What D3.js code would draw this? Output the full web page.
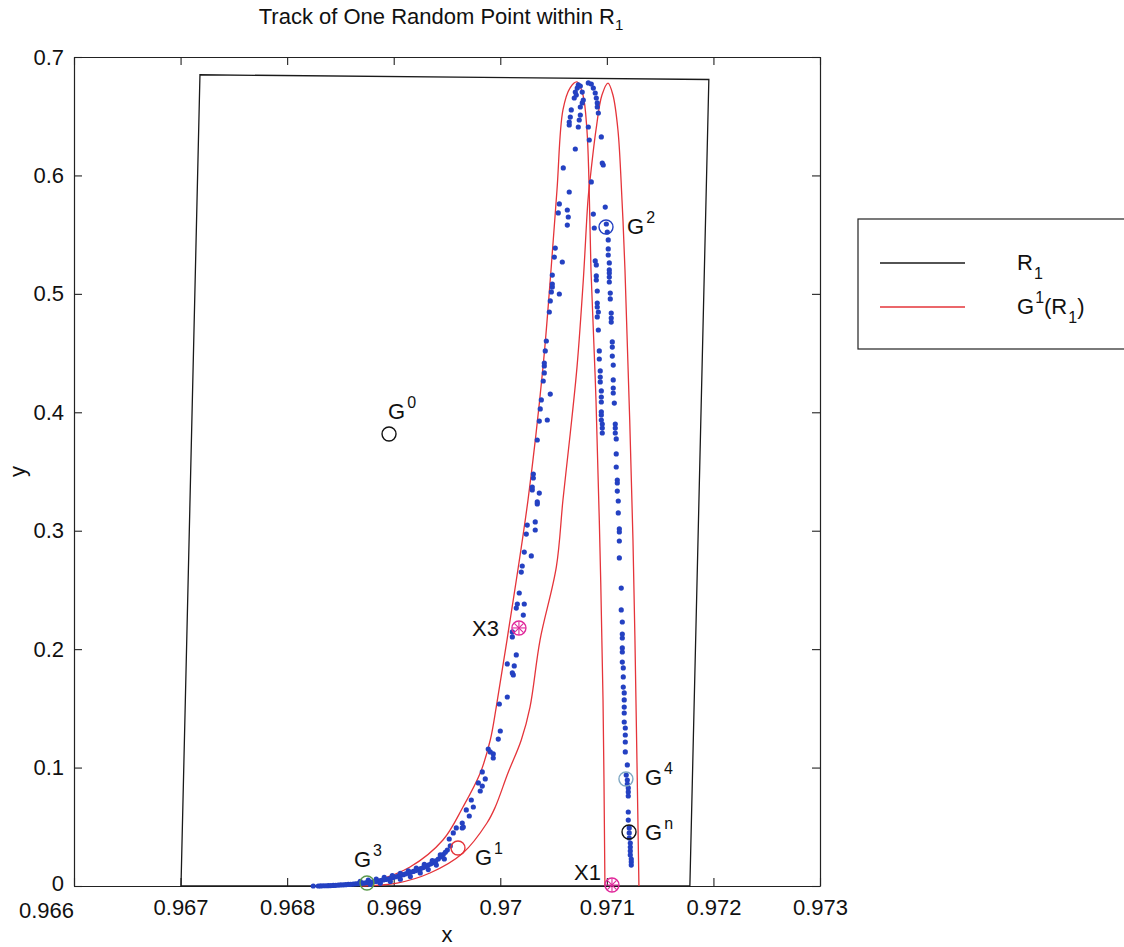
<!DOCTYPE html>
<html>
<head>
<meta charset="utf-8">
<script src="https://cdn.jsdelivr.net/npm/d3@7"></script>
<style>
  body { margin: 0; background: #fff; }
  svg { display: block; }
  text { font-family: "Liberation Sans", Arial, sans-serif; fill: #111; }
</style>
</head>
<body>
<svg id="chart" width="1124" height="947"></svg>
<script>
// ---- data ----
const xTicks = [0.966, 0.967, 0.968, 0.969, 0.97, 0.971, 0.972, 0.973];
const yTicks = [0, 0.1, 0.2, 0.3, 0.4, 0.5, 0.6, 0.7];

// R1 quadrilateral (black)
const regionR1 = [[0.967004, 0], [0.967182, 0.685], [0.971957, 0.681], [0.971779, 0]];

// G1(R1): two thin humps (red)
const humpLeft = [
  [0.968308, 0.0000], [0.968843, 0.0051], [0.969153, 0.0160], [0.969462, 0.0388], [0.969650, 0.0667],
  [0.969812, 0.0954], [0.969906, 0.1233], [0.969962, 0.1511], [0.970063, 0.2077], [0.970260, 0.3259],
  [0.970401, 0.4383], [0.970476, 0.5202], [0.970532, 0.5877], [0.970588, 0.6553], [0.970654, 0.6738],
  [0.970720, 0.6789], [0.970776, 0.6679], [0.970813, 0.6384], [0.970832, 0.5961], [0.970851, 0.5202],
  [0.970898, 0.4104], [0.970935, 0.2863], [0.970964, 0.1571], [0.970982, 0.0000]
];
const humpRight = [
  [0.968684, 0.0000], [0.969031, 0.0025], [0.969340, 0.0110], [0.969650, 0.0279], [0.969875, 0.0532],
  [0.969953, 0.0667], [0.970072, 0.0954], [0.970197, 0.1233], [0.970279, 0.1511], [0.970373, 0.2077],
  [0.970526, 0.2694], [0.970588, 0.3259], [0.970657, 0.3825], [0.970720, 0.4383], [0.970779, 0.5117],
  [0.970823, 0.5793], [0.970842, 0.5961], [0.970898, 0.6384], [0.970954, 0.6679], [0.971011, 0.6780],
  [0.971057, 0.6679], [0.971104, 0.6384], [0.971142, 0.5793], [0.971170, 0.5202], [0.971245, 0.2922],
  [0.971273, 0.1571], [0.971301, 0.0000]
];

// blue track of the random point
const trackBand = [
  [0.968245, 0.0000], [0.968292, 0.0000], [0.968339, 0.0002], [0.968386, 0.0003], [0.968433, 0.0005],
  [0.968480, 0.0008], [0.968527, 0.0010], [0.968574, 0.0013], [0.968621, 0.0016], [0.968668, 0.0020],
  [0.968714, 0.0024], [0.968761, 0.0030], [0.968808, 0.0036], [0.968855, 0.0042], [0.968902, 0.0051],
  [0.968949, 0.0059], [0.968996, 0.0072], [0.969043, 0.0084], [0.969090, 0.0096], [0.969137, 0.0110],
  [0.969184, 0.0123], [0.969231, 0.0138], [0.969277, 0.0156], [0.969324, 0.0177], [0.969371, 0.0198],
  [0.969418, 0.0228], [0.969465, 0.0266], [0.969503, 0.0304], [0.969531, 0.0338],
  [0.968315, 0.0001], [0.968362, 0.0002], [0.968409, 0.0004], [0.968456, 0.0006], [0.968503, 0.0009],
  [0.968550, 0.0011], [0.968597, 0.0014], [0.968644, 0.0018], [0.968691, 0.0022], [0.968738, 0.0027],
  [0.968785, 0.0033], [0.968832, 0.0039], [0.968879, 0.0046], [0.968925, 0.0055], [0.968972, 0.0065],
  [0.969019, 0.0078], [0.969066, 0.0090], [0.969113, 0.0103], [0.969160, 0.0116], [0.969207, 0.0130],
  [0.969254, 0.0147], [0.969301, 0.0166], [0.969348, 0.0187], [0.969395, 0.0212], [0.969441, 0.0246],
  [0.969484, 0.0285],
  [0.968686, 0.0040], [0.968761, 0.0049], [0.968836, 0.0059], [0.968911, 0.0072], [0.968987, 0.0088],
  [0.969062, 0.0106], [0.969137, 0.0128], [0.969212, 0.0152], [0.969287, 0.0182], [0.969362, 0.0215],
  [0.969437, 0.0262],
  [0.968780, 0.0013], [0.968874, 0.0023], [0.968968, 0.0038], [0.969062, 0.0057], [0.969156, 0.0080],
  [0.969249, 0.0110], [0.969324, 0.0139], [0.969400, 0.0177], [0.969475, 0.0228]
];
const trackRise = [
  [0.969521, 0.0397], [0.969559, 0.0448], [0.969587, 0.0490], [0.969643, 0.0490], [0.969643, 0.0532],
  [0.969653, 0.0498], [0.969709, 0.0591], [0.969681, 0.0642], [0.969747, 0.0667], [0.969728, 0.0726],
  [0.969812, 0.0802], [0.969831, 0.0844], [0.969794, 0.0870], [0.969859, 0.0904], [0.969831, 0.0963],
  [0.969934, 0.1081], [0.969934, 0.1115], [0.969906, 0.1132], [0.969887, 0.1157], [0.969981, 0.1241],
  [0.970000, 0.1309], [0.969991, 0.1537], [0.970066, 0.1596], [0.970122, 0.1782], [0.970113, 0.1799],
  [0.970131, 0.1858], [0.970066, 0.1875], [0.970150, 0.1951], [0.970113, 0.2103], [0.970113, 0.2145],
  [0.970216, 0.2288], [0.970150, 0.2347], [0.970160, 0.2381], [0.970225, 0.2381], [0.970178, 0.2474],
  [0.970197, 0.2651], [0.970206, 0.2702], [0.970291, 0.2787], [0.970225, 0.2820], [0.970244, 0.2972],
  [0.970328, 0.3006], [0.970253, 0.3048], [0.970328, 0.3074], [0.970347, 0.3226], [0.970347, 0.3243],
  [0.970366, 0.3318], [0.970300, 0.3344], [0.970300, 0.3369], [0.970310, 0.3445], [0.970310, 0.3479],
  [0.970347, 0.3766], [0.970366, 0.3926], [0.970441, 0.3935], [0.970375, 0.4028], [0.970385, 0.4104],
  [0.970469, 0.4154], [0.970403, 0.4264], [0.970413, 0.4332], [0.970413, 0.4391], [0.970413, 0.4416],
  [0.970422, 0.4518], [0.970432, 0.4602], [0.970460, 0.4847], [0.970469, 0.4940], [0.970554, 0.4999],
  [0.970479, 0.5016], [0.970488, 0.5058], [0.970488, 0.5083], [0.970488, 0.5159], [0.970582, 0.5269],
  [0.970507, 0.5311], [0.970516, 0.5387], [0.970629, 0.5581], [0.970638, 0.5649], [0.970629, 0.5708],
  [0.970544, 0.5683], [0.970554, 0.5759], [0.970647, 0.5860], [0.970591, 0.6063], [0.970704, 0.6223]
];
const trackPeak = [
  [0.970647, 0.6426], [0.970647, 0.6451], [0.970657, 0.6493], [0.970666, 0.6553], [0.970732, 0.6409],
  [0.970741, 0.6468], [0.970751, 0.6510], [0.970826, 0.6409], [0.970835, 0.6299], [0.970732, 0.6764],
  [0.970751, 0.6755], [0.970722, 0.6738], [0.970704, 0.6704], [0.970713, 0.6679], [0.970694, 0.6654],
  [0.970769, 0.6704], [0.970779, 0.6637], [0.970769, 0.6612], [0.970751, 0.6578], [0.970826, 0.6781],
  [0.970854, 0.6772], [0.970873, 0.6738], [0.970891, 0.6696], [0.970901, 0.6654], [0.970910, 0.6612],
  [0.970910, 0.6578], [0.970920, 0.6527], [0.970948, 0.6325], [0.970957, 0.6105], [0.970966, 0.6088],
  [0.970854, 0.5945], [0.970873, 0.5674], [0.970985, 0.5733], [0.970882, 0.5556]
];
const trackFallLeft = [
  [0.970891, 0.5278], [0.970901, 0.5244], [0.970901, 0.5151], [0.970901, 0.5117], [0.970910, 0.5024],
  [0.970910, 0.4923], [0.970910, 0.4889], [0.970920, 0.4847], [0.970910, 0.4805], [0.970920, 0.4695],
  [0.970929, 0.4518], [0.970929, 0.4450], [0.970938, 0.4349], [0.970938, 0.4298], [0.970938, 0.4256],
  [0.970948, 0.4180], [0.970948, 0.4129], [0.970948, 0.4087], [0.970948, 0.4003], [0.970948, 0.3977],
  [0.970948, 0.3935], [0.970957, 0.3901], [0.970957, 0.3867], [0.970957, 0.3825]
];
const trackFallRight = [
  [0.970995, 0.5590], [0.971004, 0.5522], [0.971013, 0.5455], [0.971013, 0.5379], [0.971013, 0.5328],
  [0.971023, 0.5261], [0.971023, 0.5202], [0.971023, 0.5176], [0.971023, 0.5142], [0.971023, 0.5100],
  [0.971032, 0.5007], [0.971032, 0.4957], [0.971041, 0.4838], [0.971041, 0.4796], [0.971041, 0.4762],
  [0.971051, 0.4594], [0.971051, 0.4551], [0.971051, 0.4475], [0.971060, 0.4399], [0.971060, 0.4273],
  [0.971060, 0.4205], [0.971060, 0.4163], [0.971070, 0.4078], [0.971079, 0.3901], [0.971079, 0.3867],
  [0.971079, 0.3825], [0.971088, 0.3775], [0.971088, 0.3648], [0.971088, 0.3538], [0.971098, 0.3428],
  [0.971098, 0.3403], [0.971098, 0.3335], [0.971107, 0.3251], [0.971107, 0.3150], [0.971117, 0.3015],
  [0.971117, 0.2989], [0.971117, 0.2913], [0.971117, 0.2770], [0.971135, 0.2516], [0.971135, 0.2331],
  [0.971145, 0.2229], [0.971145, 0.2128], [0.971145, 0.2094], [0.971145, 0.2010], [0.971145, 0.1976],
  [0.971145, 0.1891], [0.971154, 0.1841], [0.971154, 0.1765], [0.971154, 0.1680], [0.971163, 0.1630],
  [0.971163, 0.1571], [0.971163, 0.1511], [0.971163, 0.1461], [0.971163, 0.1385], [0.971173, 0.1334],
  [0.971173, 0.1275], [0.971173, 0.1216], [0.971173, 0.1132], [0.971192, 0.1022], [0.971182, 0.0937],
  [0.971192, 0.0895], [0.971192, 0.0861], [0.971201, 0.0828], [0.971201, 0.0794], [0.971201, 0.0760],
  [0.971201, 0.0625], [0.971201, 0.0557], [0.971210, 0.0490], [0.971210, 0.0448], [0.971210, 0.0405],
  [0.971220, 0.0363], [0.971220, 0.0329], [0.971220, 0.0296], [0.971220, 0.0262], [0.971229, 0.0228],
  [0.971229, 0.0203], [0.971229, 0.0177]
];

// named iterates and fixed points
const markerNames = ["G0", "G1", "G2", "G3", "G4", "Gn", "X3", "X1"];
const markerValues = [
  [0.968956, 0.3817], [0.969603, 0.0321], [0.970992, 0.5565], [0.968749, 0.0025],
  [0.971179, 0.0904], [0.971208, 0.0456], [0.970175, 0.2179], [0.971048, 0.0008]
];

// ---- layout / style ----
const width = 1124, height = 947;
const plot = { left: 74, top: 57, right: 820, bottom: 886 };
const red = "#e5343a", blue = "#2441c2", magenta = "#e0279a";
const font = "'Liberation Sans', Arial, sans-serif";

// label placement per marker: colour, text offset (px), anchor, superscript
const markerStyle = {
  G0: { color: "#111", dx: -1, dy: -15, anchor: "start", base: "G", sup: "0" },
  G1: { color: red, dx: 17, dy: 17, anchor: "start", base: "G", sup: "1" },
  G2: { color: blue, dx: 21, dy: 7, anchor: "start", base: "G", sup: "2" },
  G3: { color: "#5b9a4c", dx: -13, dy: -16, anchor: "start", base: "G", sup: "3" },
  G4: { color: "#7fa8c4", dx: 19, dy: 6, anchor: "start", base: "G", sup: "4" },
  Gn: { color: "#111", dx: 16, dy: 8, anchor: "start", base: "G", sup: "n" },
  X3: { color: magenta, dx: -20, dy: 8, anchor: "end", base: "X3" },
  X1: { color: magenta, dx: -11, dy: -5, anchor: "end", base: "X1" }
};

const svg = d3.select("#chart").attr("width", width).attr("height", height);

const x = d3.scaleLinear().domain([0.966, 0.973]).range([plot.left, plot.right]);
const y = d3.scaleLinear().domain([0, 0.7]).range([plot.bottom, plot.top]);

// axes box with inward ticks on all four sides
const fmt = d => String(+d.toFixed(3));
const axisStyle = g => {
  g.attr("font-family", font).attr("font-size", 22);
  g.select(".domain").attr("stroke", "#222").attr("stroke-width", 1.2);
  g.selectAll(".tick line").attr("stroke", "#222").attr("stroke-width", 1.1);
  g.selectAll(".tick text").attr("fill", "#111");
};

const xAxisG = svg.append("g")
  .attr("transform", `translate(0,${plot.bottom})`)
  .call(d3.axisBottom(x).tickValues(xTicks).tickSize(-8).tickSizeOuter(0).tickPadding(13).tickFormat(fmt))
  .call(axisStyle);
// first x label sits left of the corner, clear of the y "0"
xAxisG.select(".tick text").attr("dx", -28).attr("y", 16);

svg.append("g")
  .attr("transform", `translate(0,${plot.top})`)
  .call(d3.axisTop(x).tickValues(xTicks).tickSize(-8).tickSizeOuter(0).tickFormat(""))
  .call(axisStyle);
const yAxisG = svg.append("g")
  .attr("transform", `translate(${plot.left},0)`)
  .call(d3.axisLeft(y).tickValues(yTicks).tickSize(-8).tickSizeOuter(0).tickPadding(10).tickFormat(fmt))
  .call(axisStyle);
yAxisG.select(".tick text").attr("y", -3);
svg.append("g")
  .attr("transform", `translate(${plot.right},0)`)
  .call(d3.axisRight(y).tickValues(yTicks).tickSize(-8).tickSizeOuter(0).tickFormat(""))
  .call(axisStyle);

// R1 region
svg.append("path")
  .datum(regionR1)
  .attr("fill", "none")
  .attr("stroke", "#1a1a1a")
  .attr("stroke-width", 1.3)
  .attr("d", d3.line().x(d => x(d[0])).y(d => y(d[1])).curve(d3.curveLinearClosed));

// G1(R1) humps
const humpLine = d3.line().x(d => x(d[0])).y(d => y(d[1])).curve(d3.curveCatmullRom.alpha(0.5));
svg.selectAll(".hump")
  .data([humpLeft, humpRight])
  .join("path")
  .attr("class", "hump")
  .attr("fill", "none")
  .attr("stroke", red)
  .attr("stroke-width", 1.3)
  .attr("d", humpLine);

// blue dots
const track = [].concat(trackBand, trackRise, trackPeak, trackFallLeft, trackFallRight);
svg.append("g")
  .selectAll("circle")
  .data(track)
  .join("circle")
  .attr("cx", d => x(d[0]))
  .attr("cy", d => y(d[1]))
  .attr("r", 2.6)
  .attr("fill", blue);

// markers
const markers = markerNames.map((name, i) => ({ name, value: markerValues[i], ...markerStyle[name] }));
const mg = svg.append("g").selectAll("g")
  .data(markers)
  .join("g")
  .attr("transform", d => `translate(${x(d.value[0])},${y(d.value[1])})`);

mg.append("circle")
  .attr("r", 7)
  .attr("fill", "none")
  .attr("stroke", d => d.color)
  .attr("stroke-width", 1.4);

// asterisk inside the X markers
mg.filter(d => d.name[0] === "X")
  .selectAll("line")
  .data(d => [0, 45, 90, 135].map(a => ({ a, color: d.color })))
  .join("line")
  .attr("x1", d => -6.5 * Math.cos(d.a * Math.PI / 180))
  .attr("y1", d => -6.5 * Math.sin(d.a * Math.PI / 180))
  .attr("x2", d => 6.5 * Math.cos(d.a * Math.PI / 180))
  .attr("y2", d => 6.5 * Math.sin(d.a * Math.PI / 180))
  .attr("stroke", d => d.color)
  .attr("stroke-width", 1.1);

const labels = mg.append("text")
  .attr("x", d => d.dx)
  .attr("y", d => d.dy)
  .attr("text-anchor", d => d.anchor)
  .attr("font-family", font)
  .attr("font-size", 22);
labels.append("tspan").text(d => d.base);
labels.filter(d => d.sup)
  .append("tspan")
  .attr("font-size", 16)
  .attr("dx", 2)
  .attr("dy", -11)
  .text(d => d.sup);

// title
const title = svg.append("text")
  .attr("x", (plot.left + plot.right) / 2 - 6)
  .attr("y", 24)
  .attr("text-anchor", "middle")
  .attr("font-family", font)
  .attr("font-size", 22);
title.append("tspan").text("Track of One Random Point within R");
title.append("tspan").attr("font-size", 15).attr("dy", 6).text("1");

// axis labels
svg.append("text")
  .attr("x", (plot.left + plot.right) / 2)
  .attr("y", 942)
  .attr("text-anchor", "middle")
  .attr("font-family", font)
  .attr("font-size", 22)
  .text("x");
svg.append("text")
  .attr("transform", `translate(25,${(plot.top + plot.bottom) / 2}) rotate(-90)`)
  .attr("text-anchor", "middle")
  .attr("font-family", font)
  .attr("font-size", 22)
  .text("y");

// legend
const legend = svg.append("g").attr("transform", "translate(858,219)");
legend.append("rect")
  .attr("width", 280)
  .attr("height", 130)
  .attr("fill", "#fff")
  .attr("stroke", "#222")
  .attr("stroke-width", 1.2);

const legendItems = [
  { color: "#1a1a1a", parts: [["R", 0], ["1", 1]] },
  { color: red, parts: [["G", 0], ["1", -1], ["(R", 0], ["1", 1], [")", 0]] }
];
legendItems.forEach((item, i) => {
  const ly = 44 + i * 44;
  legend.append("line")
    .attr("x1", 22).attr("x2", 107)
    .attr("y1", ly).attr("y2", ly)
    .attr("stroke", item.color)
    .attr("stroke-width", 1.3);
  const t = legend.append("text")
    .attr("x", 159)
    .attr("y", ly + 7)
    .attr("font-family", font)
    .attr("font-size", 22);
  let shift = 0;
  item.parts.forEach(([s, pos]) => {
    const off = pos === 1 ? 9 : pos === -1 ? -11 : 0;
    t.append("tspan")
      .attr("font-size", pos === 0 ? 22 : 16)
      .attr("dy", off - shift)
      .attr("dx", pos === 0 ? 0 : 1)
      .text(s);
    shift = off;
  });
});
</script>
</body>
</html>
